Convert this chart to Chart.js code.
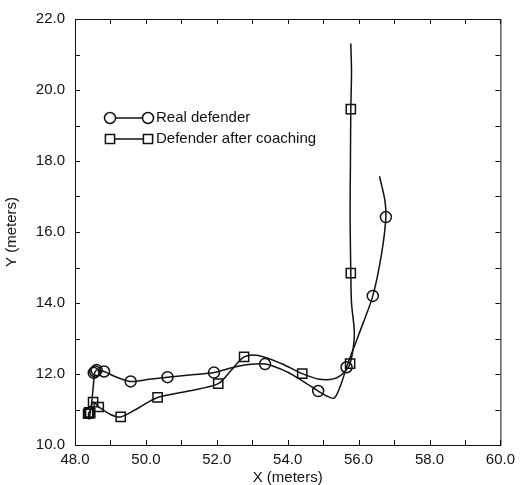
<!DOCTYPE html>
<html>
<head>
<meta charset="utf-8">
<script src="https://cdn.jsdelivr.net/npm/chart.js@4.4.1/dist/chart.umd.min.js"></script>
<style>
  body { margin: 0; background: #fff; }
  #wrap { width: 521px; height: 485px; }
</style>
</head>
<body>
<div id="wrap"><canvas id="chart" width="521" height="485"></canvas></div>
<script>
// trajectory of the real defender (line samples) and where its markers sit
const realPathX = [48.40, 48.46, 48.52, 48.55, 48.58, 48.62, 48.82, 49.2, 49.57, 50.1, 50.61, 51.3, 51.92, 52.6, 53.36, 54.0, 54.5, 54.86, 55.1, 55.31, 55.5, 55.66, 56.0, 56.40, 56.65, 56.77, 56.74, 56.59];
const realPathY = [10.72, 11.1, 11.7, 12.02, 12.08, 12.12, 12.07, 11.9, 11.79, 11.85, 11.91, 11.98, 12.04, 12.22, 12.28, 12.05, 11.75, 11.52, 11.38, 11.32, 11.7, 12.19, 13.1, 14.20, 15.4, 16.42, 16.9, 17.57];
const realMarkX = [48.53, 48.57, 48.61, 48.82, 49.57, 50.61, 51.92, 53.36, 54.86, 55.66, 56.40, 56.77];
const realMarkY = [12.03, 12.07, 12.11, 12.07, 11.79, 11.91, 12.04, 12.28, 11.52, 12.19, 14.20, 16.42];

// trajectory of the defender after coaching
const coachPathX = [48.40, 48.38, 48.42, 48.51, 48.67, 49.0, 49.29, 49.8, 50.33, 51.2, 52.04, 52.4, 52.77, 53.17, 53.83, 54.41, 54.9, 55.32, 55.6, 55.76, 55.88, 55.8, 55.78, 55.76, 55.77, 55.78, 55.8, 55.78];
const coachPathY = [10.72, 10.88, 10.95, 11.21, 11.07, 10.86, 10.79, 11.05, 11.34, 11.52, 11.73, 12.1, 12.48, 12.52, 12.29, 12.01, 11.85, 11.87, 12.05, 12.29, 13.1, 14.0, 14.84, 16.5, 18.0, 19.46, 20.5, 21.31];
const coachMarkX = [48.37, 48.40, 48.43, 48.51, 48.67, 49.29, 50.33, 52.04, 52.77, 54.41, 55.76, 55.78, 55.78];
const coachMarkY = [10.88, 10.92, 10.90, 11.21, 11.07, 10.79, 11.34, 11.73, 12.48, 12.01, 12.29, 14.84, 19.46];

const seriesNames = ["Real defender", "Defender after coaching"];
const xMin = 48, xMax = 60, yMin = 10, yMax = 22;

const FONT = "Liberation Sans, Arial, sans-serif";
const INK = "#111";

function pts(xs, ys) {
  return xs.map((x, i) => ({ x: x, y: ys[i] }));
}

// box with inward tick marks on all four sides
const frameTicks = {
  id: "frameTicks",
  afterDatasetsDraw(chart) {
    const { ctx, chartArea: a, scales } = chart;
    const len = 5;
    ctx.save();
    ctx.strokeStyle = INK;
    ctx.lineWidth = 1;
    ctx.strokeRect(a.left + 0.5, a.top + 0.5, a.right - a.left, a.bottom - a.top);
    ctx.beginPath();
    scales.x.ticks.forEach(t => {
      const px = Math.round(scales.x.getPixelForValue(t.value)) + 0.5;
      ctx.moveTo(px, a.bottom); ctx.lineTo(px, a.bottom - len);
      ctx.moveTo(px, a.top); ctx.lineTo(px, a.top + len);
    });
    scales.y.ticks.forEach(t => {
      const py = Math.round(scales.y.getPixelForValue(t.value)) + 0.5;
      ctx.moveTo(a.left, py); ctx.lineTo(a.left + len, py);
      ctx.moveTo(a.right, py); ctx.lineTo(a.right - len, py);
    });
    ctx.stroke();
    ctx.restore();
  }
};

// legend drawn like "o---o name"
const lineLegend = {
  id: "lineLegend",
  afterDraw(chart) {
    const ctx = chart.ctx;
    const rows = [
      { name: seriesNames[0], style: "circle", y: 118 },
      { name: seriesNames[1], style: "rect", y: 139 }
    ];
    const x0 = 110, x1 = 148;
    ctx.save();
    rows.forEach(r => {
      ctx.strokeStyle = INK;
      ctx.lineWidth = 1.5;
      ctx.beginPath();
      ctx.moveTo(x0, r.y); ctx.lineTo(x1, r.y);
      ctx.stroke();
      [x0, x1].forEach(x => {
        ctx.fillStyle = "#fff";
        ctx.strokeStyle = INK;
        Chart.helpers.drawPoint(ctx, { pointStyle: r.style, radius: r.style === "rect" ? 6.5 : 5.5, borderWidth: 1.5 }, x, r.y);
      });
      ctx.fillStyle = INK;
      ctx.font = "15px " + FONT;
      ctx.textBaseline = "middle";
      ctx.fillText(r.name, 156, r.y);
    });
    ctx.restore();
  }
};

const lineStyle = {
  showLine: true,
  borderColor: INK,
  borderWidth: 1.5,
  pointRadius: 0,
  pointHoverRadius: 0,
  tension: 0.3,
  fill: false
};

const markStyle = {
  showLine: false,
  borderColor: INK,
  backgroundColor: "rgba(0,0,0,0)",
  pointBorderWidth: 1.5
};

new Chart(document.getElementById("chart"), {
  type: "scatter",
  data: {
    datasets: [
      Object.assign({ label: seriesNames[0], data: pts(realPathX, realPathY) }, lineStyle),
      Object.assign({ label: seriesNames[1], data: pts(coachPathX, coachPathY) }, lineStyle),
      Object.assign({ label: seriesNames[0], data: pts(realMarkX, realMarkY), pointStyle: "circle", pointRadius: 5.5 }, markStyle),
      Object.assign({ label: seriesNames[1], data: pts(coachMarkX, coachMarkY), pointStyle: "rect", pointRadius: 6.5 }, markStyle)
    ]
  },
  options: {
    responsive: false,
    animation: false,
    layout: { padding: { left: 0, right: 17, top: 17, bottom: 0 } },
    plugins: { legend: { display: false }, tooltip: { enabled: false } },
    scales: {
      x: {
        type: "linear",
        min: xMin, max: xMax,
        grid: { display: false, drawTicks: false },
        border: { display: false },
        ticks: {
          stepSize: 1,
          padding: 6,
          color: INK,
          font: { family: FONT, size: 15 },
          maxRotation: 0,
          autoSkip: false,
          callback: v => (v % 2 === 0 ? v.toFixed(1) : "")
        },
        title: {
          display: true,
          text: "X (meters)",
          color: INK,
          font: { family: FONT, size: 15, lineHeight: 1 },
          padding: { top: 2, bottom: 0 }
        },
        afterFit: s => { s.height = 40; }
      },
      y: {
        type: "linear",
        min: yMin, max: yMax,
        grid: { display: false, drawTicks: false },
        border: { display: false },
        ticks: {
          stepSize: 1,
          padding: 10,
          color: INK,
          font: { family: FONT, size: 15 },
          autoSkip: false,
          callback: v => (v % 2 === 0 ? v.toFixed(1) : "")
        },
        title: {
          display: true,
          text: "Y (meters)",
          color: INK,
          font: { family: FONT, size: 15, lineHeight: 1.2 },
          padding: { top: 3, bottom: 0 }
        },
        afterFit: s => { s.width = 75; }
      }
    }
  },
  plugins: [frameTicks, lineLegend]
});
</script>
</body>
</html>
